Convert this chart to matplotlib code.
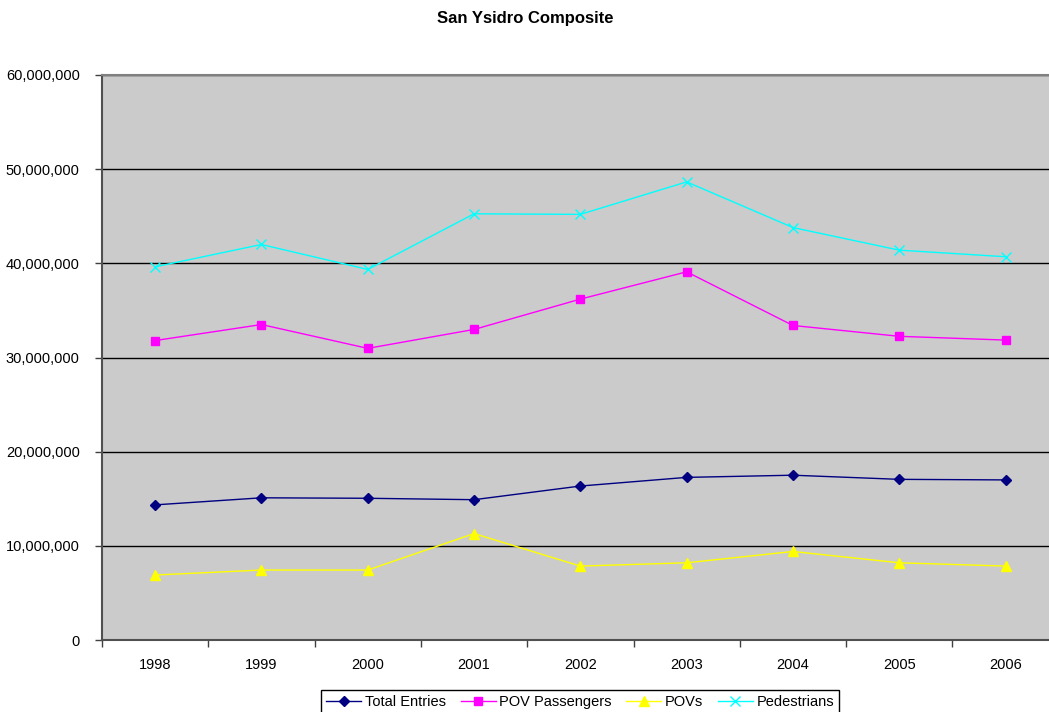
import matplotlib
matplotlib.use("Agg")
import matplotlib.pyplot as plt
from matplotlib.ticker import FuncFormatter, FixedLocator, NullFormatter

years = ["1998", "1999", "2000", "2001", "2002", "2003", "2004", "2005", "2006"]
total_entries = [14.35e6, 15.1e6, 15.05e6, 14.9e6, 16.35e6, 17.27e6, 17.5e6, 17.06e6, 17.0e6]
pov_passengers = [31.8e6, 33.5e6, 30.97e6, 32.98e6, 36.2e6, 39.1e6, 33.4e6, 32.25e6, 31.85e6]
povs = [6.9e6, 7.43e6, 7.43e6, 11.3e6, 7.85e6, 8.2e6, 9.4e6, 8.2e6, 7.85e6]
pedestrians = [39.63e6, 42.0e6, 39.35e6, 45.26e6, 45.2e6, 48.65e6, 43.8e6, 41.4e6, 40.7e6]
y_ticks = [0, 10e6, 20e6, 30e6, 40e6, 50e6, 60e6]

plt.rcParams['font.family'] = ['Liberation Sans', 'DejaVu Sans']

W, H = 1049, 712
fig = plt.figure(figsize=(W / 100, H / 100), dpi=100)
left, right, top, bottom = 102, 1058.7, 75, 640
ax = fig.add_axes([left / W, (H - bottom) / H, (right - left) / W, (bottom - top) / H])
ax.set_facecolor('#CBCBCB')

x = list(range(len(years)))
ax.plot(x, total_entries, color='#000080', marker='D', markersize=5, lw=1, label='Total Entries', zorder=3)
ax.plot(x, pov_passengers, color='#FF00FF', marker='s', markersize=6, lw=1, label='POV Passengers', zorder=3)
ax.plot(x, povs, color='#FFFF00', marker='^', markersize=7, lw=1, label='POVs', zorder=3)
ax.plot(x, pedestrians, color='#00FFFF', marker='x', markersize=7, mew=1, lw=1, label='Pedestrians', zorder=3)

ax.set_xlim(-0.5, len(years) - 0.5)
ax.set_ylim(0, 60e6)
ax.set_yticks(y_ticks)
ax.yaxis.set_major_formatter(FuncFormatter(lambda v, p: f"{int(v):,}"))
ax.yaxis.grid(True, color='black', lw=1)
ax.set_axisbelow(True)

ax.xaxis.set_major_locator(FixedLocator([i - 0.5 for i in range(len(years) + 1)]))
ax.xaxis.set_major_formatter(NullFormatter())
ax.xaxis.set_minor_locator(FixedLocator(x))
ax.set_xticklabels(years, minor=True)
ax.tick_params(axis='x', which='major', length=5, width=1, color='#404040', direction='out')
ax.tick_params(axis='x', which='minor', length=0, pad=13, labelsize=10.5)
ax.tick_params(axis='y', length=5, width=1, color='#404040', pad=11, labelsize=10.5)

for s in ['left', 'bottom']:
    ax.spines[s].set_color('#505050')
    ax.spines[s].set_linewidth(1.5)
ax.spines['top'].set_color('#808080')
ax.spines['top'].set_linewidth(1.5)
ax.spines['right'].set_color('#808080')

fig.text(525 / W, 1 - 18 / H, "San Ysidro Composite", ha='center', va='center',
         fontsize=12, fontweight='bold')

leg = fig.legend(loc='upper center', bbox_to_anchor=((left + right) / 2 / W, 1 - 690 / H),
                 ncol=4, frameon=True, fancybox=False, edgecolor='black', fontsize=10.5,
                 handlelength=2.4, handletextpad=0.25, columnspacing=1.0, borderpad=0.35,
                 borderaxespad=0, framealpha=1)
leg.get_frame().set_linewidth(1)

fig.savefig('out.png', dpi=100)
